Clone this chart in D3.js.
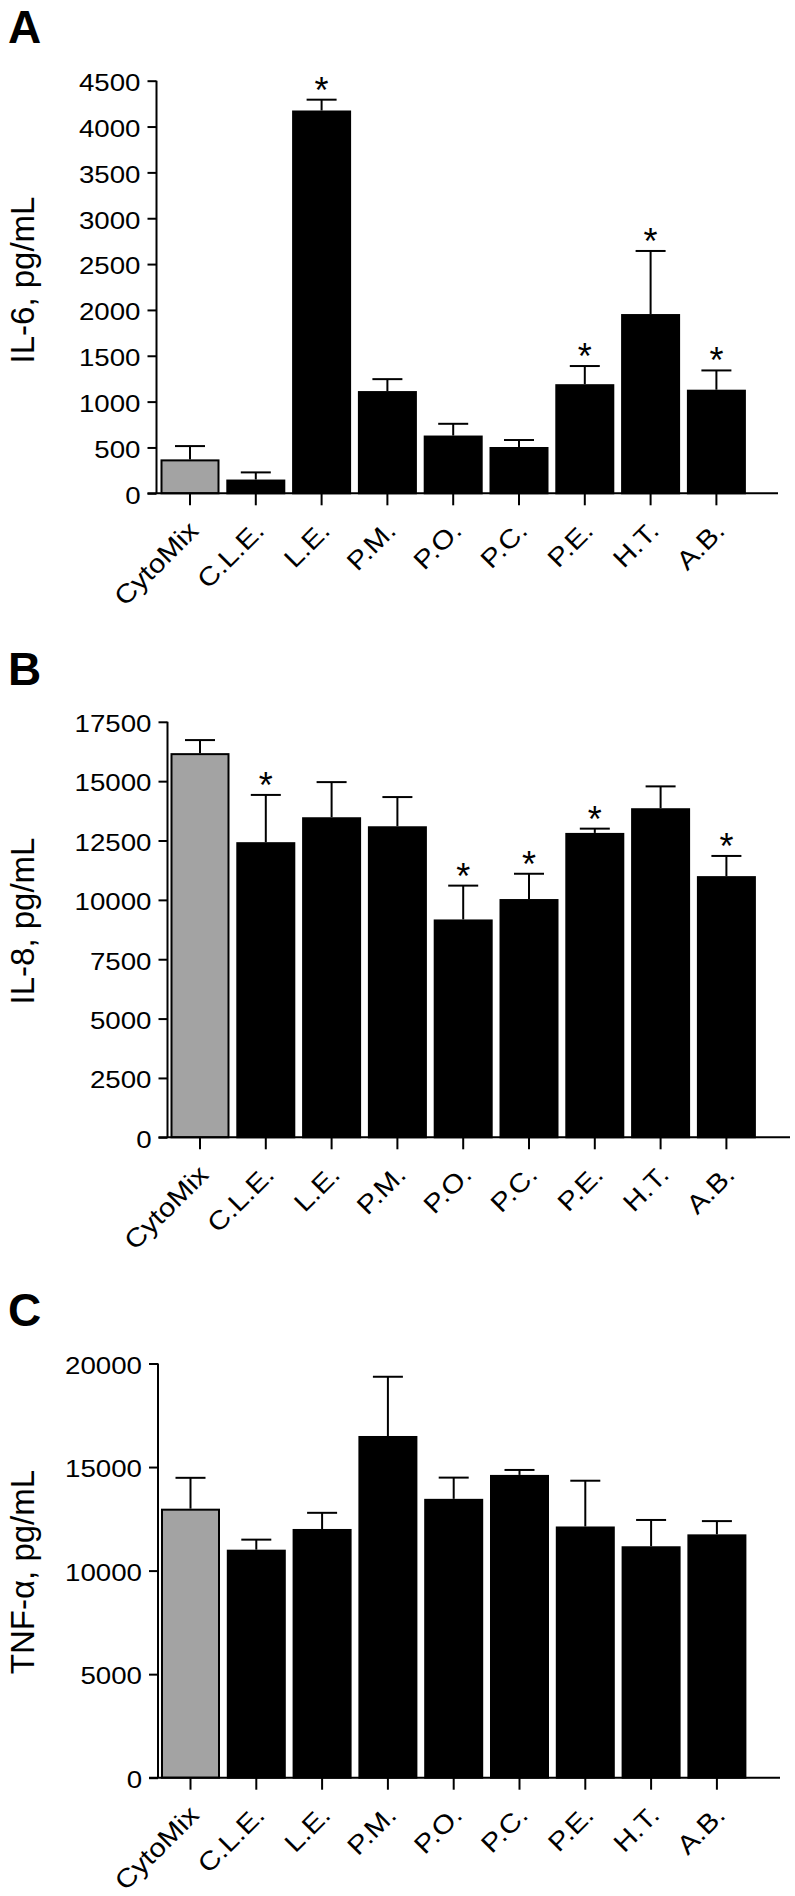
<!DOCTYPE html>
<html>
<head>
<meta charset="utf-8">
<script src="https://cdn.jsdelivr.net/npm/d3@7"></script>
<style>
  html, body { margin: 0; padding: 0; background: #fff; }
  svg { display: block; }
  text { font-family: "Liberation Sans", Arial, Helvetica, sans-serif; fill: #000; }
</style>
</head>
<body>
<svg id="chart" width="795" height="1896"></svg>
<script>
// ---------- data ----------
const categories = ["CytoMix", "C.L.E.", "L.E.", "P.M.", "P.O.", "P.C.", "P.E.", "H.T.", "A.B."];

const il6Values  = [370, 150, 4175, 1115, 630, 505, 1190, 1955, 1130];
const il6Errors  = [145, 78, 118, 130, 128, 76, 198, 688, 210];
const il6Stars   = [false, false, true, false, false, false, true, true, true];
const il6Ticks   = [0, 500, 1000, 1500, 2000, 2500, 3000, 3500, 4000, 4500];

const il8Values  = [16180, 12430, 13480, 13100, 9175, 10035, 12820, 13860, 11000];
const il8Errors  = [550, 1990, 1480, 1230, 1425, 1065, 180, 920, 850];
const il8Stars   = [false, true, false, false, true, true, true, false, true];
const il8Ticks   = [0, 2500, 5000, 7500, 10000, 12500, 15000, 17500];

const tnfValues  = [12990, 11010, 12010, 16500, 13465, 14620, 12130, 11175, 11750];
const tnfErrors  = [1490, 485, 780, 2860, 1025, 240, 2210, 1270, 640];
const tnfStars   = [false, false, false, false, false, false, false, false, false];
const tnfTicks   = [0, 5000, 10000, 15000, 20000];

const panelLetters = ["A", "B", "C"];
const yTitles = ["IL-6, pg/mL", "IL-8, pg/mL", "TNF-\u03b1, pg/mL"];

// ---------- layout ----------
const panels = [
  { letter: panelLetters[0], title: yTitles[0], values: il6Values, errors: il6Errors, stars: il6Stars, ticks: il6Ticks,
    yMax: 4500, axisX: 156.5, yTop: 80.7, yBottom: 493.3, center0: 190, xEnd: 778, letterY: 43.3, titleY: 280 },
  { letter: panelLetters[1], title: yTitles[1], values: il8Values, errors: il8Errors, stars: il8Stars, ticks: il8Ticks,
    yMax: 17500, axisX: 167.5, yTop: 721.8, yBottom: 1137.3, center0: 200, xEnd: 790, letterY: 684.7, titleY: 921 },
  { letter: panelLetters[2], title: yTitles[2], values: tnfValues, errors: tnfErrors, stars: tnfStars, ticks: tnfTicks,
    yMax: 20000, axisX: 158, yTop: 1363.5, yBottom: 1777.7, center0: 190.5, xEnd: 780, letterY: 1326, titleY: 1572 }
];

const step = 65.8;
const barW = 59;
const grey = "#a3a3a3";
const stretchX = 1.13;

const svg = d3.select("#chart");

panels.forEach((p) => {
  const g = svg.append("g");

  const paddingInner = 1 - barW / step;
  const paddingOuter = paddingInner / 2;
  const r0 = p.center0 - step / 2;
  const r1 = r0 + step * categories.length;
  const x = d3.scaleBand().domain(categories).range([r0, r1])
    .paddingInner(paddingInner).paddingOuter(paddingOuter);

  const y = d3.scaleLinear().domain([0, p.yMax]).range([p.yBottom, p.yTop]);

  // panel letter
  g.append("text")
    .attr("x", 8).attr("y", p.letterY)
    .attr("font-size", 46).attr("font-weight", "bold")
    .text(p.letter);

  // y title
  g.append("text")
    .attr("transform", `translate(33.5,${p.titleY}) rotate(-90)`)
    .attr("text-anchor", "middle")
    .attr("font-size", 33)
    .text(p.title);

  const data = categories.map((c, i) => ({ c, i, v: p.values[i], e: p.errors[i], s: p.stars[i] }));

  // error bars (upper only)
  const eg = g.append("g").attr("stroke", "#000").attr("stroke-width", 2).attr("fill", "none");
  data.forEach(d => {
    const cx = x(d.c) + x.bandwidth() / 2;
    const yt = y(d.v + d.e);
    eg.append("line").attr("x1", cx).attr("x2", cx).attr("y1", y(d.v)).attr("y2", yt);
    eg.append("line").attr("x1", cx - 15).attr("x2", cx + 15).attr("y1", yt).attr("y2", yt);
  });

  // bars
  g.append("g").selectAll("rect").data(data).enter().append("rect")
    .attr("x", d => x(d.c) + 1)
    .attr("width", x.bandwidth() - 2)
    .attr("y", d => y(d.v) + 1)
    .attr("height", d => y(0) - y(d.v) - 1)
    .attr("fill", d => d.i === 0 ? grey : "#000")
    .attr("stroke", "#000")
    .attr("stroke-width", 2);

  // significance stars
  g.append("g").selectAll("text").data(data.filter(d => d.s)).enter().append("text")
    .attr("x", d => x(d.c) + x.bandwidth() / 2)
    .attr("y", d => y(d.v + d.e) + 3)
    .attr("text-anchor", "middle")
    .attr("font-size", 36)
    .text("*");

  // y axis
  const yAxis = d3.axisLeft(y).tickValues(p.ticks).tickSize(9).tickPadding(6).tickSizeOuter(0)
    .tickFormat(d3.format("d"));
  const ya = g.append("g").attr("transform", `translate(${p.axisX},0)`).call(yAxis);
  ya.select(".domain").attr("stroke-width", 2).attr("d", `M0,${p.yTop}V${p.yBottom}`);
  ya.selectAll(".tick line").attr("stroke-width", 2);
  ya.selectAll(".tick text")
    .attr("font-size", 24.5)
    .attr("font-family", '"Liberation Sans", Arial, sans-serif')
    .attr("dy", "0.4em")
    .attr("x", -16 / stretchX)
    .attr("transform", `scale(${stretchX},1)`);

  // x axis line
  g.append("line")
    .attr("x1", p.axisX - 9).attr("x2", p.xEnd)
    .attr("y1", p.yBottom).attr("y2", p.yBottom)
    .attr("stroke", "#000").attr("stroke-width", 2);

  // x ticks and rotated labels
  const xAxis = d3.axisBottom(x).tickSize(12).tickSizeOuter(0);
  const xa = g.append("g").attr("transform", `translate(0,${p.yBottom})`).call(xAxis);
  xa.select(".domain").remove();
  xa.selectAll(".tick line").attr("stroke-width", 2);
  xa.selectAll(".tick text")
    .attr("font-size", 26)
    .attr("font-family", '"Liberation Sans", Arial, sans-serif')
    .attr("text-anchor", "end")
    .attr("dy", null)
    .attr("y", null)
    .attr("transform", `translate(10,39) rotate(-45) scale(${stretchX},1)`);
});
</script>
</body>
</html>
